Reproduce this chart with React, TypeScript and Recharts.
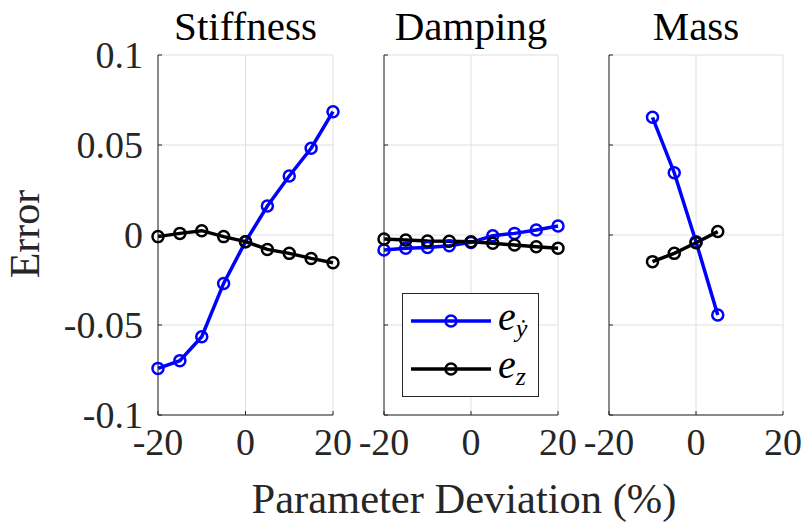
import { LineChart, Line, XAxis, YAxis, CartesianGrid, Legend } from 'recharts';

// deviation (%) and error values for each parameter sweep
const stiffnessDeviation = [-20, -15, -10, -5, 0, 5, 10, 15, 20];
const stiffnessEyDot = [-0.0741, -0.0698, -0.0565, -0.0269, -0.0037, 0.0161, 0.0328, 0.0482, 0.0685];
const stiffnessEz = [-0.0009, 0.0009, 0.0024, -0.0009, -0.0037, -0.008, -0.0102, -0.013, -0.0154];

const dampingDeviation = [-20, -15, -10, -5, 0, 5, 10, 15, 20];
const dampingEyDot = [-0.0083, -0.0074, -0.007, -0.006, -0.0041, -0.0004, 0.0009, 0.0028, 0.005];
const dampingEz = [-0.0022, -0.0028, -0.0033, -0.0035, -0.0037, -0.0046, -0.0056, -0.0065, -0.0074];

const massDeviation = [-10, -5, 0, 5];
const massEyDot = [0.0654, 0.0346, -0.0037, -0.0444];
const massEz = [-0.0148, -0.0102, -0.0043, 0.0019];

const panelTitles = ['Stiffness', 'Damping', 'Mass'];
const xTicks = [-20, 0, 20];
const yTicks = [-0.1, -0.05, 0, 0.05, 0.1];

const W = 806;
const H = 530;
const PLOT_TOP = 55;
const PLOT_BOTTOM = 415;
const AXIS_W = 40; // space reserved by the y axis
const AXIS_H = 40; // space reserved by the x axis
const PANELS = [
  { left: 158, right: 333 },
  { left: 384, right: 558 },
  { left: 609, right: 783 },
];

const FONT = "'Liberation Serif', 'DejaVu Serif', serif";
const AXIS = '#262626';
const GRID = '#dfdfdf';
const BLUE = '#0000ff';
const BLACK = '#000000';
const LINE_W = 3.5;

const rows = (dev: number[], ey: number[], ez: number[]) =>
  dev.map((d, i) => ({ dev: d, ey: ey[i], ez: ez[i] }));

const panelData = [
  rows(stiffnessDeviation, stiffnessEyDot, stiffnessEz),
  rows(dampingDeviation, dampingEyDot, dampingEz),
  rows(massDeviation, massEyDot, massEz),
];

const fmt = (v: number) => (v === 0 ? '0' : String(v));

// inward tick marks, labels below the axis
function XTick(props: any) {
  const { x, y, payload } = props;
  return (
    <g>
      <line x1={x} x2={x} y1={y} y2={y - 4} stroke={AXIS} strokeWidth={1} />
      <text x={x} y={y + 40} textAnchor="middle" fontFamily={FONT} fontSize={38} fill={AXIS}>
        {fmt(payload.value)}
      </text>
    </g>
  );
}

function YTick(props: any) {
  const { x, y, payload, showLabel } = props;
  return (
    <g>
      <line x1={x} x2={x + 4} y1={y} y2={y} stroke={AXIS} strokeWidth={1} />
      {showLabel && (
        <text x={x - 15} y={y + 13} textAnchor="end" fontFamily={FONT} fontSize={38} fill={AXIS}>
          {fmt(payload.value)}
        </text>
      )}
    </g>
  );
}

function LegendBox() {
  const entry = (y: number, color: string, sub: string) => (
    <g>
      <line x1={9} x2={89} y1={y} y2={y} stroke={color} strokeWidth={LINE_W} />
      <circle cx={49} cy={y} r={5.5} fill="none" stroke={color} strokeWidth={2.5} />
      <text x={96} y={y + 9} fontFamily={FONT} fontSize={40} fontStyle="italic" fill="#000">
        e
        <tspan fontSize={26} dy={7}>{sub}</tspan>
      </text>
    </g>
  );
  return (
    <svg width={137} height={104} style={{ display: 'block' }}>
      <rect x={0.5} y={0.5} width={136} height={103} fill="#fff" stroke={AXIS} strokeWidth={1} />
      {entry(28, BLUE, 'ẏ')}
      {entry(76, BLACK, 'z')}
    </svg>
  );
}

export default function App() {
  return (
    <div style={{ position: 'absolute', left: 0, top: 0, width: W, height: H, background: '#fff' }}>
      {PANELS.map((p, i) => (
        <div key={i} style={{ position: 'absolute', left: 0, top: 0 }}>
          <LineChart
            width={W}
            height={H}
            data={panelData[i]}
            margin={{
              top: PLOT_TOP,
              bottom: H - PLOT_BOTTOM - AXIS_H,
              left: p.left - AXIS_W,
              right: W - p.right,
            }}
          >
            <CartesianGrid stroke={GRID} strokeWidth={1} />
            <XAxis
              dataKey="dev"
              type="number"
              domain={[-20, 20]}
              ticks={xTicks}
              height={AXIS_H}
              tickSize={0}
              tickMargin={0}
              tickLine={false}
              axisLine={{ stroke: AXIS, strokeWidth: 1 }}
              tick={<XTick />}
              interval={0}
            />
            <YAxis
              type="number"
              domain={[-0.1, 0.1]}
              ticks={yTicks}
              width={AXIS_W}
              tickSize={0}
              tickMargin={0}
              tickLine={false}
              axisLine={{ stroke: AXIS, strokeWidth: 1 }}
              tick={<YTick showLabel={i === 0} />}
              interval={0}
              allowDataOverflow
            />
            <Line
              dataKey="ey"
              type="linear"
              stroke={BLUE}
              strokeWidth={LINE_W}
              dot={{ r: 5.5, stroke: BLUE, strokeWidth: 2.5, fill: 'none' }}
              isAnimationActive={false}
            />
            <Line
              dataKey="ez"
              type="linear"
              stroke={BLACK}
              strokeWidth={LINE_W}
              dot={{ r: 5.5, stroke: BLACK, strokeWidth: 2.5, fill: 'none' }}
              isAnimationActive={false}
            />
            {i === 1 && (
              <Legend
                layout="horizontal"
                verticalAlign="middle"
                align="center"
                content={() => <LegendBox />}
                wrapperStyle={{ left: 402, top: 293, width: 137, height: 104 }}
              />
            )}
          </LineChart>
        </div>
      ))}
      <svg
        width={W}
        height={H}
        style={{ position: 'absolute', left: 0, top: 0, pointerEvents: 'none' }}
      >
        {PANELS.map((p, i) => (
          <text
            key={i}
            x={(p.left + p.right) / 2}
            y={40}
            textAnchor="middle"
            fontFamily={FONT}
            fontSize={41}
            fill="#000"
          >
            {panelTitles[i]}
          </text>
        ))}
        <text
          x={39}
          y={234}
          transform="rotate(-90, 39, 234)"
          textAnchor="middle"
          fontFamily={FONT}
          fontSize={42}
          fill={AXIS}
        >
          Error
        </text>
        <text x={464} y={513} textAnchor="middle" fontFamily={FONT} fontSize={42.5} fill={AXIS}>
          Parameter Deviation (%)
        </text>
      </svg>
    </div>
  );
}
